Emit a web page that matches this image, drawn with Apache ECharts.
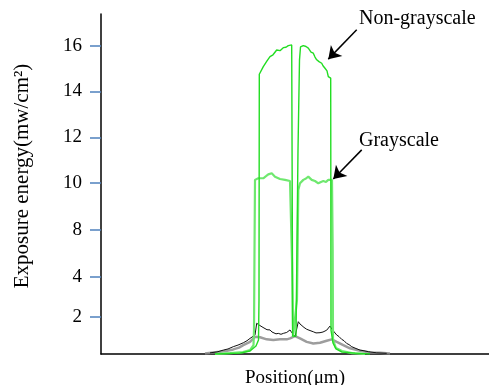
<!DOCTYPE html>
<html>
<head>
<meta charset="utf-8">
<script src="https://cdn.jsdelivr.net/npm/echarts@6/dist/echarts.min.js"></script>
<style>
  html, body { margin: 0; padding: 0; background: #fff; }
  #chart { width: 489px; height: 385px; }
</style>
</head>
<body>
<div id="chart"></div>
<script>
// position (arbitrary units), exposure energy
var nonGrayscale = [
    [114,2.54],[139,2.58],[149,2.67],[155,2.89],[157.5,3.15],[158,4.9],[158.3,14.75],
    [162.3,15.08],[166,15.33],[169,15.52],[172,15.6],[175.7,15.81],[179,15.78],[182.3,15.91],
    [185,15.93],[187.3,16.0],[190.7,16.03],[191.5,15.99],[191.7,3.32],[193,3.24],[195,3.32],
    [197,11.45],[198.5,15.38],[199.5,15.94],[202.3,16.0],[205,15.96],[207.3,15.89],[210,15.72],
    [212.3,15.67],[214,15.5],[215.7,15.38],[218,15.3],[220.7,15.23],[222,15.12],[224,15.01],
    [226,14.9],[227.3,14.65],[229.7,14.58],[230,3.58],[232,3.02],[235,2.76],[241,2.62],
    [254,2.58],[269,2.54]
];
var grayscale = [
    [114,2.54],[129,2.58],[142,2.62],[149,2.71],[152.5,2.93],[153,3.58],[153.5,7.08],
    [154,10.14],[157.3,10.21],[162.3,10.21],[165,10.3],[167.3,10.38],[170.7,10.43],[174,10.28],
    [176,10.33],[179,10.18],[184,10.14],[186,10.2],[189,10.09],[190.5,10.05],[191,6.64],
    [192,3.28],[194,3.24],[196,4.9],[197.3,9.7],[199,9.99],[202.3,10.14],[205,10.2],
    [207.3,10.28],[209,10.2],[210.7,10.14],[214,10.09],[217.3,9.99],[220,10.05],[222.3,10.09],
    [225,10.05],[227.3,10.14],[231,10.14],[231.7,7.08],[232,3.15],[235,2.8],[241,2.67],
    [251,2.58],[264,2.54]
];
var blackCurve = [
    [109,2.59],[116,2.63],[122.3,2.71],[127,2.76],[132.3,2.86],[137,2.93],[142.3,3.03],
    [146,3.12],[149,3.22],[154,3.37],[155.7,3.88],[157.3,3.9],[159,3.78],[160.7,3.8],
    [162,3.7],[164,3.7],[166,3.6],[169,3.59],[171,3.5],[172.3,3.51],[175,3.42],[177.3,3.44],
    [180,3.4],[182.3,3.44],[185.7,3.48],[189,3.59],[191,3.46],[194,3.29],[197.3,3.95],
    [199,3.85],[200.7,3.8],[203,3.7],[205.7,3.62],[208,3.58],[210,3.5],[212.3,3.51],
    [215,3.46],[219,3.47],[222,3.5],[225.7,3.58],[229,3.76],[231,3.62],[232.3,3.58],
    [235.7,3.37],[238,3.3],[240.7,3.18],[243,3.12],[245.7,3.0],[248,2.95],[250.7,2.86],
    [255,2.78],[259,2.71],[263,2.68],[267.3,2.64],[275.7,2.59],[285.7,2.57]
];
var grayCurve = [
    [104,2.56],[119,2.64],[126,2.68],[132.3,2.74],[138,2.82],[142.3,2.93],[149,3.07],
    [154,3.29],[159,3.27],[165.7,3.18],[172.3,3.15],[179,3.18],[185.7,3.18],[189,3.22],
    [194,3.32],[199,3.22],[205.7,3.07],[212.3,3.0],[219,3.03],[225.7,3.12],[230.7,3.18],
    [235.7,3.07],[242.3,2.93],[249,2.79],[259,2.68],[269,2.61],[279,2.59],[289,2.56]
];

// tick positions on the energy axis and the labels printed there
var tickPos = [4.15, 5.9, 7.95, 10, 12, 14, 16];
var tickText = ['2', '4', '8', '10', '12', '14', '16'];

var myChart = echarts.init(document.getElementById('chart'));

var serif = 'Liberation Serif';

var option = {
    backgroundColor: '#fff',
    animation: false,
    textStyle: { fontFamily: serif },
    grid: {
        left: 101,
        right: 0,
        top: 14,
        bottom: 31,
        outerBoundsMode: 'none'
    },
    xAxis: {
        type: 'value',
        min: 0,
        max: 388,
        name: 'Position(μm)',
        nameLocation: 'middle',
        nameGap: 15,
        nameTextStyle: { color: '#000', fontSize: 19, fontFamily: serif },
        axisLine: { show: true, onZero: false, lineStyle: { color: '#000', width: 1.5 } },
        axisTick: { show: false },
        axisLabel: { show: false },
        splitLine: { show: false }
    },
    yAxis: {
        type: 'value',
        min: 2.54,
        max: 17.38,
        name: 'Exposure energy(mw/cm²)',
        nameLocation: 'middle',
        nameGap: 68,
        nameTextStyle: { color: '#000', fontSize: 21, fontFamily: serif, padding: [0, 0, 0, 16] },
        axisLine: { show: true, lineStyle: { color: '#000', width: 1.5 } },
        axisTick: {
            show: true,
            length: 11,
            customValues: tickPos,
            lineStyle: { color: '#4f81bd', width: 1.5 }
        },
        axisLabel: {
            show: true,
            margin: 19,
            color: '#000',
            fontSize: 19,
            fontFamily: serif,
            customValues: tickPos,
            formatter: function (v) {
                for (var i = 0; i < tickPos.length; i++) {
                    if (Math.abs(tickPos[i] - v) < 0.01) return tickText[i];
                }
                return '';
            }
        },
        splitLine: { show: false }
    },
    graphic: [
        {
            type: 'text',
            left: 359,
            top: 9,
            style: { text: 'Non-grayscale', fill: '#000', font: '20px "Liberation Serif"' }
        },
        {
            type: 'text',
            left: 359,
            top: 131,
            style: { text: 'Grayscale', fill: '#000', font: '20px "Liberation Serif"' }
        }
    ],
    series: [
        {
            name: 'gray',
            type: 'line',
            data: grayCurve,
            showSymbol: false,
            lineStyle: { color: '#8c8c8c', width: 2.5, opacity: 0.85 },
            z: 1
        },
        {
            name: 'black',
            type: 'line',
            data: blackCurve,
            showSymbol: false,
            lineStyle: { color: '#111', width: 1 },
            z: 2
        },
        {
            name: 'Grayscale',
            type: 'line',
            data: grayscale,
            showSymbol: false,
            lineStyle: { color: '#6fe86f', width: 2.2 },
            z: 3,
            markLine: {
                silent: true,
                symbol: ['none', 'arrow'],
                symbolSize: 12,
                label: { show: false },
                lineStyle: { color: '#000', width: 1.5, type: 'solid' },
                data: [
                    [{ coord: [260.7, 11.45] }, { coord: [232.3, 10.18] }]
                ]
            }
        },
        {
            name: 'Non-grayscale',
            type: 'line',
            data: nonGrayscale,
            showSymbol: false,
            lineStyle: { color: '#22dd22', width: 1.4 },
            z: 4,
            markLine: {
                silent: true,
                symbol: ['none', 'arrow'],
                symbolSize: 12,
                label: { show: false },
                lineStyle: { color: '#000', width: 1.5, type: 'solid' },
                data: [
                    [{ coord: [255.7, 16.69] }, { coord: [227.3, 15.41] }]
                ]
            }
        }
    ]
};

myChart.setOption(option);

window.addEventListener("resize", function () {
    myChart.resize();
});
</script>
</body>
</html>
